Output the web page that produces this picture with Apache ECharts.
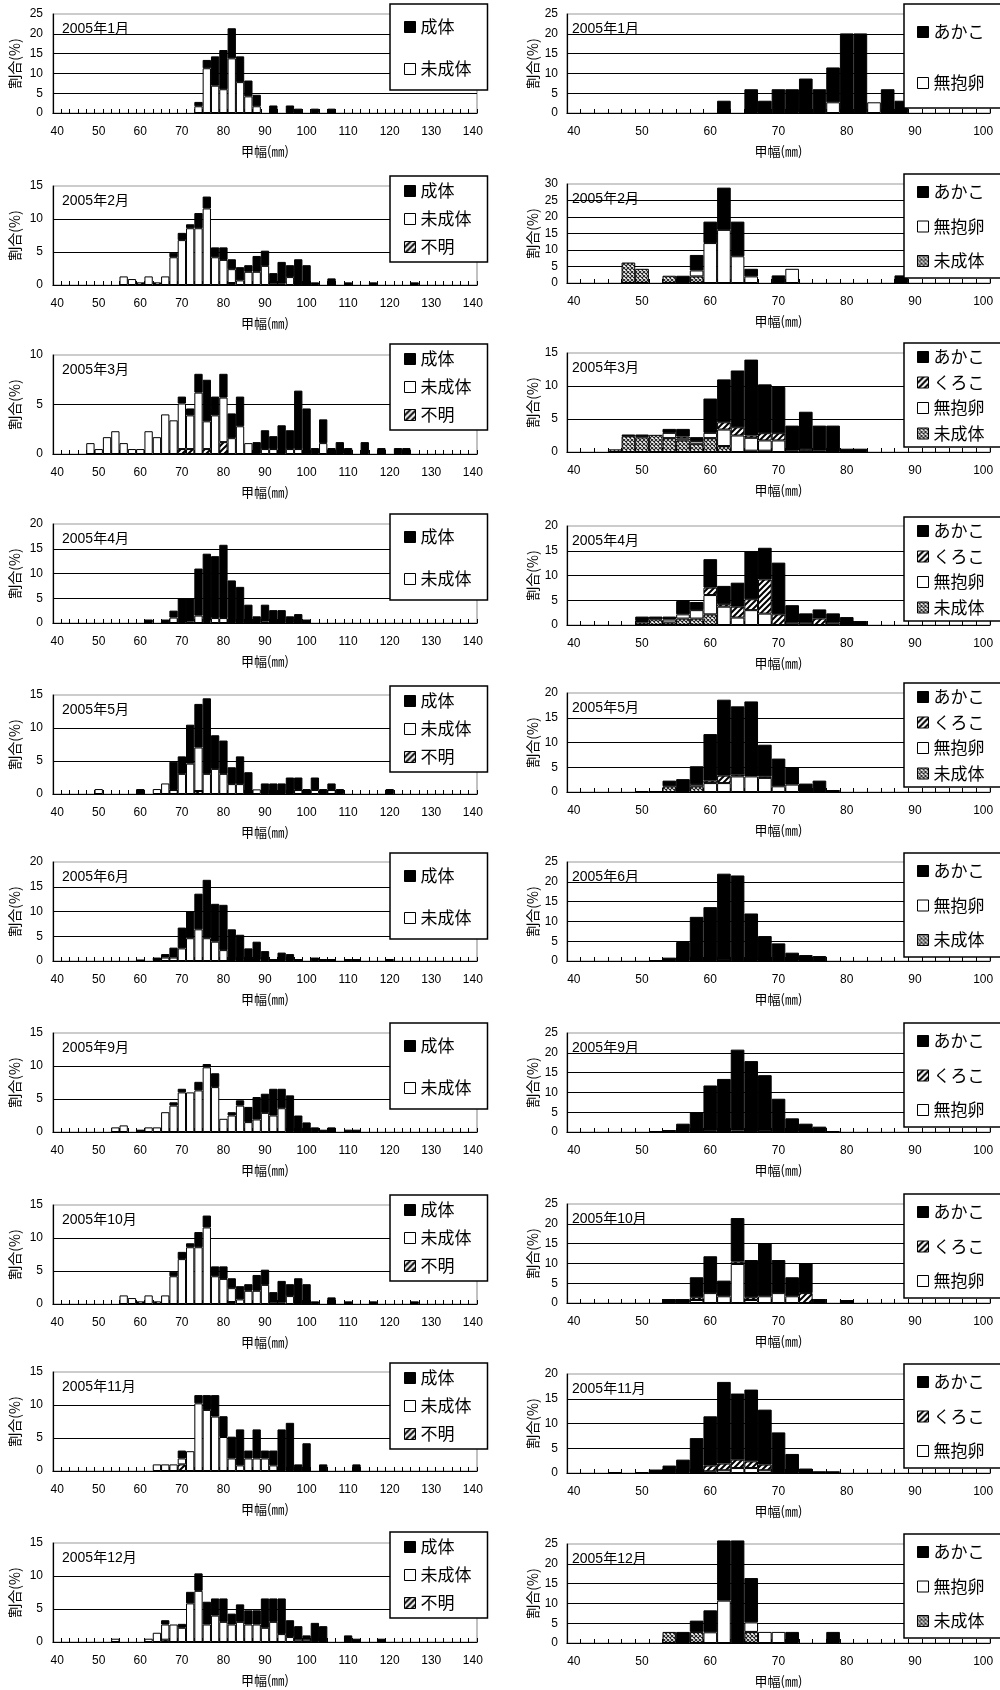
<!DOCTYPE html>
<html><head><meta charset="utf-8">
<script src="https://cdn.jsdelivr.net/npm/echarts@6/dist/echarts.min.js"></script>
<style>html,body{margin:0;padding:0;background:#fff}#c{width:1000px;height:1690px}</style>
</head><body><div id="c"></div>
<script>
// ---- categories / tick labels ----
const catL = ['40','42','44','46','48','50','52','54','56','58','60','62','64','66','68','70','72','74','76','78','80','82','84','86','88','90','92','94','96','98','100','102','104','106','108','110','112','114','116','118','120','122','124','126','128','130','132','134','136','138','140'];
const catR = ['40','42','44','46','48','50','52','54','56','58','60','62','64','66','68','70','72','74','76','78','80','82','84','86','88','90','92','94','96','98','100'];
const yMaxL = [25,15,10,20,15,20,15,15,15,15];
const yMaxR = [25,30,15,20,20,25,25,25,20,25];
const monthLabels = ['2005年1月','2005年2月','2005年3月','2005年4月','2005年5月','2005年6月','2005年9月','2005年10月','2005年11月','2005年12月'];

// ---- left column (成体 / 未成体 / 不明), [size, %] ----
const L01_imm = [[74,1.7],[76,11.3],[78,6.9],[80,6.0],[82,13.8],[84,7.8],[86,4.2],[88,1.7]];
const L01_adu = [[74,1.1],[76,2.1],[78,7.4],[80,9.9],[82,7.6],[84,6.5],[86,4.0],[88,2.9],[92,1.9],[96,1.9],[98,1.1],[102,1.1],[106,1.1]];

const L02_unk = [[60,0.4],[64,0.4],[82,0.3],[92,0.2],[94,0.2]];
const L02_imm = [[56,1.3],[58,0.9],[62,1.3],[66,1.3],[68,4.2],[70,6.8],[72,8.6],[74,8.6],[76,11.6],[78,4.2],[80,3.8],[82,2.1],[84,0.7],[86,2.0],[88,2.0],[90,2.9],[96,1.2]];
const L02_adu = [[68,0.7],[70,1.1],[72,0.6],[74,2.3],[76,1.8],[78,1.5],[80,1.9],[82,1.5],[84,2.0],[86,1.0],[88,2.4],[90,2.3],[92,1.6],[94,3.3],[96,1.8],[98,3.9],[100,3.0],[102,0.4],[106,1.0],[110,0.4],[116,0.4],[126,0.4]];

const L03_unk = [[70,0.5],[72,0.5],[76,0.5],[80,1.2]];
const L03_imm = [[48,1.1],[50,0.5],[52,1.7],[54,2.3],[56,1.1],[58,0.5],[60,0.5],[62,2.3],[64,1.7],[66,4.0],[68,3.4],[70,4.6],[72,3.4],[74,6.2],[76,2.8],[78,3.9],[80,4.5],[82,1.6],[84,2.8],[86,1.1],[90,0.5],[92,0.5],[96,0.5],[98,0.5],[104,1.1]];
const L03_adu = [[70,0.7],[72,0.7],[74,1.9],[76,4.2],[78,1.9],[80,2.4],[82,2.5],[84,3.0],[88,1.2],[90,1.9],[92,1.3],[94,2.9],[96,1.9],[98,5.9],[100,4.6],[102,0.6],[104,2.4],[106,0.6],[108,1.2],[110,0.6],[114,1.2],[118,0.6],[122,0.6],[124,0.6]];

const L04_imm = [[68,1.1],[72,0.3],[74,1.5],[76,0.4],[78,1.0],[80,1.0],[90,0.3]];
const L04_adu = [[62,0.7],[66,0.7],[68,1.4],[70,5.0],[72,4.7],[74,9.5],[76,13.6],[78,12.5],[80,14.8],[82,8.6],[84,7.3],[86,3.7],[88,1.35],[90,3.4],[92,2.6],[94,2.6],[96,1.35],[98,1.8],[100,0.7]];

const L05_unk = [[74,0.45]];
const L05_imm = [[50,0.75],[64,0.75],[66,1.6],[68,0.6],[70,3.05],[72,4.6],[74,6.6],[76,3.05],[78,3.8],[80,3.05],[82,1.5],[84,1.5],[88,0.7],[98,0.6],[102,0.6],[106,0.6]];
const L05_adu = [[60,0.75],[68,4.3],[70,2.65],[72,5.9],[74,6.6],[76,11.45],[78,5.1],[80,5.05],[82,2.55],[84,4.2],[86,3.3],[90,1.6],[92,1.6],[94,1.6],[96,2.5],[98,1.9],[100,0.75],[102,1.9],[104,0.75],[106,1.0],[108,0.75],[120,0.75]];

const L06_imm = [[66,0.7],[68,0.7],[70,2.55],[72,4.6],[74,6.4],[76,4.6],[78,3.9],[80,2.2],[84,0.2],[86,0.2],[88,0.2]];
const L06_adu = [[60,0.3],[64,0.7],[66,0.7],[68,2.0],[70,4.2],[72,5.4],[74,7.2],[76,11.8],[78,7.65],[80,9.15],[82,6.4],[84,5.1],[86,2.35],[88,3.7],[90,2.0],[92,0.4],[94,1.7],[96,1.4],[98,0.4],[102,0.7],[104,0.4],[106,0.4],[110,0.4],[112,0.4],[120,0.4]];

const L09_imm_sep = [[54,0.7],[56,1.0],[62,0.7],[64,0.7],[66,3.0],[68,4.0],[70,6.0],[72,6.0],[74,6.3],[76,9.8],[78,6.8],[80,2.0],[82,2.5],[84,4.0],[86,1.5],[88,1.9],[90,2.9],[92,2.5],[94,3.6]];
const L09_adu_sep = [[60,0.35],[68,0.5],[70,0.55],[74,1.3],[76,0.5],[78,2.1],[82,0.5],[84,0.8],[86,2.3],[88,3.4],[90,2.9],[92,4.05],[94,2.95],[96,5.55],[98,2.5],[100,1.45],[102,0.7],[104,0.35],[106,0.7],[110,0.35],[112,0.35]];

const L10_unk = [[60,0.4],[64,0.4],[82,0.3],[92,0.2],[94,0.2]];
const L10_imm = [[56,1.3],[58,0.9],[62,1.3],[66,1.3],[68,4.2],[70,6.8],[72,8.6],[74,8.6],[76,11.6],[78,4.2],[80,3.8],[82,2.1],[84,0.7],[86,2.0],[88,2.0],[90,2.9],[96,1.2]];
const L10_adu = [[68,0.7],[70,1.1],[72,0.6],[74,2.3],[76,1.8],[78,1.5],[80,1.9],[82,1.5],[84,2.0],[86,1.0],[88,2.4],[90,2.3],[92,1.6],[94,3.3],[96,1.8],[98,3.9],[100,3.0],[102,0.4],[106,1.0],[110,0.4],[116,0.4],[126,0.4]];

const L11_unk = [[70,1.0]];
const L11_imm = [[64,1.0],[66,1.0],[68,1.0],[70,0.9],[72,3.0],[74,10.25],[76,9.25],[78,8.25],[80,5.15],[82,1.9],[84,0.85],[86,1.9],[88,1.9],[90,1.9],[92,0.85]];
const L11_adu = [[70,1.2],[74,1.25],[76,2.25],[78,3.25],[80,3.15],[82,3.3],[84,5.45],[86,1.2],[88,4.4],[90,1.2],[92,2.25],[94,6.3],[96,7.3],[98,1.0],[100,4.2],[104,1.0],[112,1.0]];

const L12_unk = [[66,0.35]];
const L12_imm = [[54,0.5],[62,0.5],[64,1.4],[66,2.3],[68,2.65],[70,2.15],[72,5.85],[74,7.75],[76,2.65],[78,4.0],[80,3.05],[82,2.65],[84,3.05],[86,2.65],[88,2.65],[90,2.15],[92,3.05],[94,1.2],[96,0.75],[98,0.35],[100,0.35]];
const L12_adu = [[66,0.65],[70,0.6],[72,1.75],[74,2.65],[76,3.45],[78,2.6],[80,3.55],[82,1.65],[84,2.65],[86,2.15],[88,2.15],[90,4.45],[92,3.55],[94,5.4],[96,2.55],[98,2.05],[100,0.65],[102,2.9],[104,2.4],[110,1.0],[112,0.5],[118,0.5]];

// ---- right column (あかこ / くろこ / 無抱卵 / 未成体) ----
const R01_nob = [[78,2.7],[84,2.7]];
const R01_aka = [[62,3.1],[66,6.0],[68,3.1],[70,6.0],[72,6.0],[74,8.7],[76,6.0],[78,8.8],[80,20.1],[82,20.1],[86,6.0],[88,3.1]];

const R02_juv = [[48,6.2],[50,4.3],[54,2.2],[58,2.0]];
const R02_nob = [[58,1.8],[60,12.1],[62,16.1],[64,8.1],[66,2.0],[72,4.3]];
const R02_aka = [[56,2.2],[58,4.7],[60,6.5],[62,12.8],[64,10.5],[66,2.3],[70,2.3],[88,2.3]];

const R03_juv = [[46,0.4],[48,2.4],[50,2.2],[52,2.6],[54,2.1],[56,1.75],[58,1.25],[60,2.1],[62,0.9],[66,0.2],[68,0.2],[72,0.2],[74,0.2],[76,0.2]];
const R03_nob = [[50,0.2],[54,0.8],[56,0.3],[58,0.4],[60,0.8],[62,2.5],[64,2.5],[66,1.95],[68,1.55],[70,1.75]];
const R03_kur = [[56,0.3],[62,1.1],[64,1.25],[66,0.35],[68,1.1],[70,1.1],[74,0.2]];
const R03_aka = [[48,0.25],[50,0.25],[54,0.6],[56,1.15],[58,0.6],[60,5.2],[62,6.5],[64,8.6],[66,11.5],[68,7.4],[70,7.0],[72,3.8],[74,5.7],[76,3.8],[78,4.0],[80,0.5],[82,0.5]];

const R04_juv = [[50,0.5],[52,1.15],[54,0.5],[56,1.3],[58,1.3],[60,2.15]];
const R04_nob = [[50,0.3],[54,0.6],[56,0.85],[58,1.7],[60,3.9],[62,3.7],[64,1.5],[66,3.0],[68,2.3],[72,0.45],[74,0.45],[78,0.45]];
const R04_kur = [[60,1.5],[62,0.5],[64,2.2],[66,2.2],[68,6.9],[70,2.15],[76,1.3]];
const R04_aka = [[50,0.9],[52,0.55],[54,0.6],[56,2.7],[58,1.65],[60,5.75],[62,3.7],[64,4.85],[66,9.75],[68,6.4],[70,10.45],[72,3.55],[74,1.9],[76,1.85],[78,1.9],[80,1.6],[82,0.8]];

const R05_juv = [[54,1.15],[58,1.15]];
const R05_nob = [[58,0.45],[60,1.8],[62,1.8],[64,3.15],[66,3.15],[68,2.85],[70,1.15],[72,1.5]];
const R05_kur = [[60,0.5],[62,1.5],[64,0.35],[68,0.3]];
const R05_aka = [[50,0.2],[52,0.2],[54,1.15],[56,2.6],[58,3.6],[60,9.4],[62,15.35],[64,13.8],[66,15.15],[68,6.4],[70,5.6],[72,3.5],[74,1.7],[76,2.3],[78,0.4]];

const R06_juv = [[62,0.2]];
const R06_aka = [[52,0.2],[54,0.85],[56,4.8],[58,11.15],[60,13.6],[62,21.85],[64,21.6],[66,12.0],[68,6.3],[70,4.45],[72,2.1],[74,1.5],[76,1.25]];

const R09_nob_sep = [[60,0.3],[64,0.4],[68,0.3]];
const R09_aka_sep = [[52,0.2],[54,0.5],[56,2.1],[58,5.0],[60,11.45],[62,13.4],[64,20.4],[66,17.9],[68,14.05],[70,8.4],[72,3.45],[74,2.1],[76,1.35],[78,0.25]];

const R10_nob = [[58,0.75],[60,2.5],[62,1.7],[64,9.85],[66,0.75],[68,1.7],[70,2.5],[72,1.7]];
const R10_kur = [[58,0.7],[64,0.6],[66,0.7],[74,2.5]];
const R10_aka = [[54,1.0],[56,1.0],[58,5.05],[60,9.3],[62,3.95],[64,11.0],[66,9.4],[68,13.45],[70,8.35],[72,4.8],[74,7.6],[76,1.0],[80,0.75]];

const R11_nob = [[60,0.35],[62,0.55],[64,1.0],[66,1.0],[68,0.55],[70,0.2]];
const R11_kur = [[60,1.15],[62,1.35],[64,1.7],[66,1.35],[68,1.15]];
const R11_aka = [[46,0.2],[50,0.2],[52,0.7],[54,1.5],[56,2.7],[58,7.05],[60,9.95],[62,16.5],[64,13.35],[66,14.5],[68,11.1],[70,8.0],[72,3.85],[74,0.9],[76,0.35],[78,0.35]];

const R12_juv = [[54,2.8],[58,2.8],[66,2.8]];
const R12_nob = [[60,2.7],[62,10.7],[66,2.4],[68,2.8],[70,2.8]];
const R12_aka = [[56,2.8],[58,2.85],[60,5.55],[62,15.2],[64,25.9],[66,11.2],[72,2.8],[78,2.8]];

// ---- panel composition (bottom -> top stacking order) ----
const leftPanels = [
  {ser:[['未成体',L01_imm],['成体',L01_adu]], leg:['成体','未成体']},
  {ser:[['不明',L02_unk],['未成体',L02_imm],['成体',L02_adu]], leg:['成体','未成体','不明']},
  {ser:[['不明',L03_unk],['未成体',L03_imm],['成体',L03_adu]], leg:['成体','未成体','不明']},
  {ser:[['未成体',L04_imm],['成体',L04_adu]], leg:['成体','未成体']},
  {ser:[['不明',L05_unk],['未成体',L05_imm],['成体',L05_adu]], leg:['成体','未成体','不明']},
  {ser:[['未成体',L06_imm],['成体',L06_adu]], leg:['成体','未成体']},
  {ser:[['未成体',L09_imm_sep],['成体',L09_adu_sep]], leg:['成体','未成体']},
  {ser:[['不明',L10_unk],['未成体',L10_imm],['成体',L10_adu]], leg:['成体','未成体','不明']},
  {ser:[['不明',L11_unk],['未成体',L11_imm],['成体',L11_adu]], leg:['成体','未成体','不明']},
  {ser:[['不明',L12_unk],['未成体',L12_imm],['成体',L12_adu]], leg:['成体','未成体','不明']}
];
const rightPanels = [
  {ser:[['無抱卵',R01_nob],['あかこ',R01_aka]], leg:['あかこ','無抱卵']},
  {ser:[['未成体R',R02_juv],['無抱卵',R02_nob],['あかこ',R02_aka]], leg:['あかこ','無抱卵','未成体R']},
  {ser:[['未成体R',R03_juv],['無抱卵',R03_nob],['くろこ',R03_kur],['あかこ',R03_aka]], leg:['あかこ','くろこ','無抱卵','未成体R']},
  {ser:[['未成体R',R04_juv],['無抱卵',R04_nob],['くろこ',R04_kur],['あかこ',R04_aka]], leg:['あかこ','くろこ','無抱卵','未成体R']},
  {ser:[['未成体R',R05_juv],['無抱卵',R05_nob],['くろこ',R05_kur],['あかこ',R05_aka]], leg:['あかこ','くろこ','無抱卵','未成体R']},
  {ser:[['未成体R',R06_juv],['あかこ',R06_aka]], leg:['あかこ','無抱卵','未成体R']},
  {ser:[['無抱卵',R09_nob_sep],['あかこ',R09_aka_sep]], leg:['あかこ','くろこ','無抱卵']},
  {ser:[['無抱卵',R10_nob],['くろこ',R10_kur],['あかこ',R10_aka]], leg:['あかこ','くろこ','無抱卵']},
  {ser:[['無抱卵',R11_nob],['くろこ',R11_kur],['あかこ',R11_aka]], leg:['あかこ','くろこ','無抱卵']},
  {ser:[['未成体R',R12_juv],['無抱卵',R12_nob],['あかこ',R12_aka]], leg:['あかこ','無抱卵','未成体R']}
];

// ---- layout ----
const topL = [14,186,355,524,695,862,1033,1205,1372,1543];
const topR = [14,184,353,526,693,862,1033,1204,1374,1544];
const legTopL = [4,176,344,514,686,853,1023,1195,1363,1532];
const legTopR = [4,174,343,517,683,853,1023,1194,1364,1534];
const PH = 99;
const FONT = "'Liberation Sans','Noto Sans CJK JP',sans-serif";
const JFONT = "'Noto Sans CJK JP','Liberation Sans',sans-serif";

function mkHatch(){
  const c=document.createElement('canvas'); c.width=6; c.height=6;
  const g=c.getContext('2d'); g.fillStyle='#fff'; g.fillRect(0,0,6,6);
  g.strokeStyle='#000'; g.lineWidth=2; g.beginPath();
  g.moveTo(0,6); g.lineTo(6,0); g.moveTo(-1,1); g.lineTo(1,-1); g.moveTo(5,7); g.lineTo(7,5);
  g.stroke(); return c;
}
function mkCross(){
  const c=document.createElement('canvas'); c.width=4; c.height=4;
  const g=c.getContext('2d'); g.fillStyle='#fff'; g.fillRect(0,0,4,4);
  g.strokeStyle='#222'; g.lineWidth=1.1; g.beginPath();
  g.moveTo(0,0); g.lineTo(4,4); g.moveTo(4,0); g.lineTo(0,4); g.stroke(); return c;
}
const hatch = {image: mkHatch(), repeat:'repeat'};
const cross = {image: mkCross(), repeat:'repeat'};
const fills = {'成体':'#000','未成体':'#fff','不明':hatch,'あかこ':'#000','くろこ':hatch,'無抱卵':'#fff','未成体R':cross};

function fill(cats, pairs){
  const m = {}; pairs.forEach(p => { m[String(p[0])] = p[1]; });
  return cats.map(c => (m[c] !== undefined ? m[c] : '-'));
}

const grids=[], xAxes=[], yAxes=[], series=[], titles=[], legends=[];
function addPanel(idx, side, panel, top, legTop, maxY, label){
  const isL = side==='L';
  const cats = isL ? catL : catR;
  grids.push({left: isL?53:567, top: top, width: isL?424:423, height: PH, show:true, borderColor:'#999', borderWidth:1.2, backgroundColor:'transparent', containLabel:false, outerBoundsMode:'none'});
  xAxes.push({type:'category', gridIndex:idx, data:cats, boundaryGap:true,
    axisLine:{lineStyle:{color:'#000',width:1.2}},
    axisTick:{show:true, inside:true, length:4, interval:0, alignWithLabel:false, lineStyle:{color:'#000'}},
    axisLabel:{interval:4, margin:13, fontSize:12, color:'#000', fontFamily:FONT},
    splitLine:{show:false},
    name:'甲幅(㎜)', nameLocation:'middle', nameGap:32, nameTextStyle:{fontSize:13, color:'#000', fontFamily:JFONT}});
  yAxes.push({type:'value', gridIndex:idx, min:0, max:maxY, interval:5,
    axisLine:{show:true, lineStyle:{color:'#000',width:1.2}},
    axisTick:{show:false},
    splitLine:{show:true, showMaxLine:false, lineStyle:{color:'#000', width:1}},
    axisLabel:{fontSize:12, color:'#000', margin:isL?10:9, fontFamily:FONT},
    name:'割合(%)', nameLocation:'middle', nameGap:isL?31:27, nameTextStyle:{fontSize:14, color:'#000', fontFamily:JFONT}});
  panel.ser.forEach(s => {
    series.push({type:'bar', name:s[0], xAxisIndex:idx, yAxisIndex:idx, stack:'st'+idx,
      data: fill(cats, s[1]), barCategoryGap:'0%', barGap:'0%', clip:false, silent:true,
      itemStyle:{color: fills[s[0]], borderColor:'#000', borderWidth:1},
      emphasis:{disabled:true}});
  });
  const two = label.length > 8;
  titles.push({text:label, left: isL ? (two?58:62) : (two?568:572), top: top+7, padding:0,
    textStyle:{fontSize:14, fontWeight:'normal', color:'#000', fontFamily:FONT, lineHeight:16}});
  const n = panel.leg.length;
  let pad, gap;
  if (isL) {
    if (n===2) { pad=[14,16,12,14]; gap=24; } else { pad=[6,16,6,14]; gap=10; }
  } else {
    if (n===2) { pad=[19,30,16,13]; gap=33; }
    else if (n===3) { pad=[9,30,8,13]; gap=16.5; }
    else { pad=[5,30,4.5,13]; gap=7.5; }
  }
  legends.push({orient:'vertical', left: isL?390:904, top: legTop, padding: pad, itemGap: gap,
    itemWidth:11, itemHeight:11, icon:'rect', data: panel.leg, selectedMode:false,
    formatter: nm => nm.replace(/R$/,''),
    backgroundColor:'#fff', borderColor:'#000', borderWidth:1.5, borderRadius:0,
    itemStyle:{borderColor:'#000', borderWidth:1},
    textStyle:{fontSize:17, lineHeight:18, color:'#000', fontFamily:JFONT}});
}
leftPanels.forEach((p,i) => addPanel(i, 'L', p, topL[i], legTopL[i], yMaxL[i], monthLabels[i]));
rightPanels.forEach((p,i) => addPanel(10+i, 'R', p, topR[i], legTopR[i], yMaxR[i], monthLabels[i]));

const chart = echarts.init(document.getElementById('c'), null, {renderer:'canvas', width:1000, height:1690});
chart.setOption({animation:false, backgroundColor:'#fff', textStyle:{fontFamily:FONT},
  grid:grids, xAxis:xAxes, yAxis:yAxes, series:series, title:titles, legend:legends, tooltip:{show:false}});
</script></body></html>
